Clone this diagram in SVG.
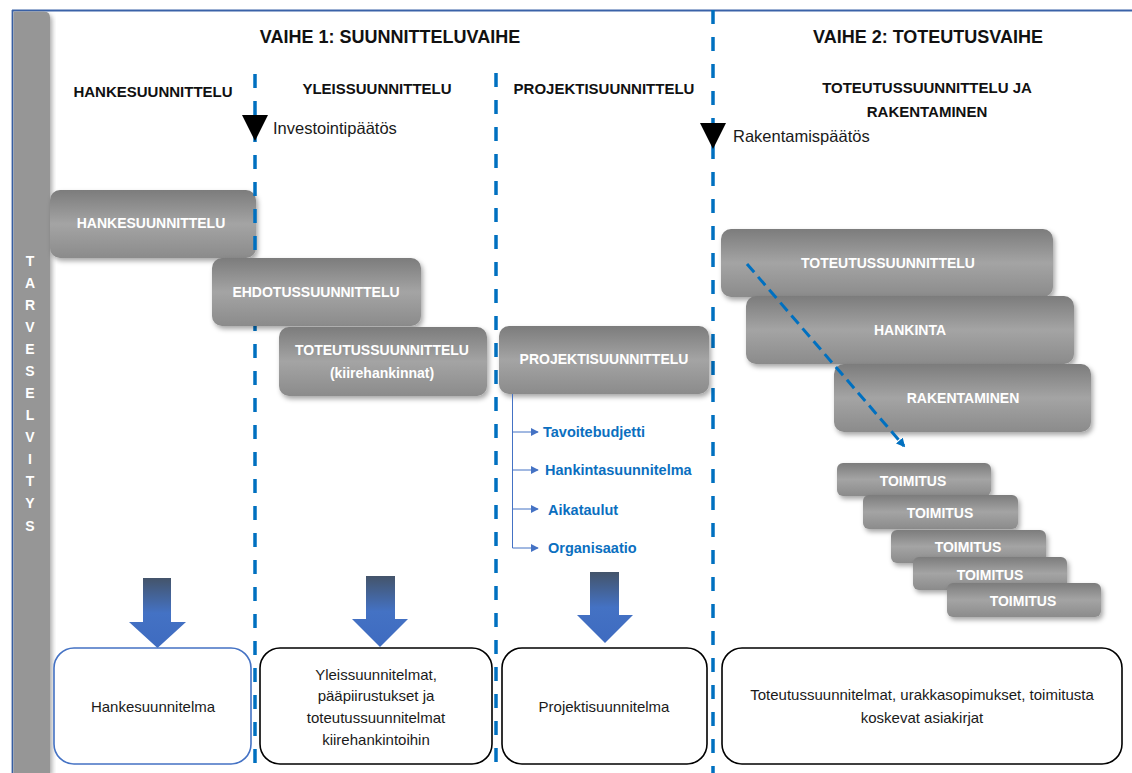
<svg xmlns="http://www.w3.org/2000/svg" width="1132" height="773" viewBox="0 0 1132 773">
<defs>
<linearGradient id="gGray" x1="0" y1="0" x2="0" y2="1">
<stop offset="0" stop-color="#7c7c7c"/>
<stop offset="0.5" stop-color="#a4a4a4"/>
<stop offset="1" stop-color="#8b8b8b"/>
</linearGradient>
<linearGradient id="gBlue" x1="0" y1="0" x2="0" y2="1">
<stop offset="0" stop-color="#44546A"/>
<stop offset="0.5" stop-color="#4472C4"/>
<stop offset="1" stop-color="#3E6BC0"/>
</linearGradient>
<filter id="sh" x="-10%" y="-20%" width="125%" height="150%">
<feDropShadow dx="2" dy="3" stdDeviation="2.5" flood-color="#000" flood-opacity="0.35"/>
</filter>
<marker id="mSmall" viewBox="0 0 10 10" refX="9" refY="5" markerWidth="8" markerHeight="8" markerUnits="userSpaceOnUse" orient="auto">
<path d="M0,0 L10,5 L0,10 Z" fill="#4472C4"/>
</marker>
<marker id="mDiag" viewBox="0 0 10 10" refX="8" refY="5" markerWidth="3" markerHeight="3" orient="auto">
<path d="M0,0 L10,5 L0,10 Z" fill="#0070C0"/>
</marker>
</defs>
<style>
.box{fill:url(#gGray);filter:url(#sh);}
.lbl{font-family:"Liberation Sans",Arial,sans-serif;font-weight:bold;font-size:14px;fill:#ffffff;text-anchor:middle;}
.hdr{font-family:"Liberation Sans",Arial,sans-serif;font-weight:bold;font-size:15px;fill:#111111;text-anchor:middle;}
.ttl{font-family:"Liberation Sans",Arial,sans-serif;font-weight:bold;font-size:18px;fill:#111111;text-anchor:middle;}
.dec{font-family:"Liberation Sans",Arial,sans-serif;font-size:16.5px;fill:#1a1a1a;}
.bl{font-family:"Liberation Sans",Arial,sans-serif;font-weight:bold;font-size:14.5px;fill:#0B6FC0;}
.out{fill:#ffffff;stroke:#000000;stroke-width:1.6;}
.otx{font-family:"Liberation Sans",Arial,sans-serif;font-size:15px;fill:#1a1a1a;text-anchor:middle;}
.div{stroke:#0070C0;stroke-width:3.5;stroke-dasharray:14 13;fill:none;}
.barr{fill:url(#gBlue);}
.vl{font-family:"Liberation Sans",Arial,sans-serif;font-weight:bold;font-size:14px;fill:#ffffff;text-anchor:middle;}
</style>

<!-- frame -->
<g id="frame">
<line x1="12" y1="10.5" x2="1132" y2="10.5" stroke="#3A62A8" stroke-width="1.8"/>
<line x1="12.5" y1="10" x2="12.5" y2="773" stroke="#3A62A8" stroke-width="1.8"/>
</g>

<!-- side bar -->
<g id="tarveselvitys">
<path d="M13.5,11.5 H44 Q50,11.5 50,17.5 V773 H13.5 Z" fill="#969696" filter="url(#sh)"/>
<text class="vl" x="30" y="266">T</text>
<text class="vl" x="30" y="288">A</text>
<text class="vl" x="30" y="310">R</text>
<text class="vl" x="30" y="332">V</text>
<text class="vl" x="30" y="354">E</text>
<text class="vl" x="30" y="376">S</text>
<text class="vl" x="30" y="398">E</text>
<text class="vl" x="30" y="420">L</text>
<text class="vl" x="30" y="442">V</text>
<text class="vl" x="30" y="464">I</text>
<text class="vl" x="30" y="486">T</text>
<text class="vl" x="30" y="508">Y</text>
<text class="vl" x="30" y="531">S</text>
</g>

<!-- titles -->
<g id="titles">
<text class="ttl" x="390" y="43">VAIHE 1: SUUNNITTELUVAIHE</text>
<text class="ttl" x="928" y="43">VAIHE 2: TOTEUTUSVAIHE</text>
<text class="hdr" x="153" y="97">HANKESUUNNITTELU</text>
<text class="hdr" x="377" y="94">YLEISSUUNNITTELU</text>
<text class="hdr" x="604" y="94">PROJEKTISUUNNITTELU</text>
<text class="hdr" x="927" y="93">TOTEUTUSSUUNNITTELU JA</text>
<text class="hdr" x="927" y="117">RAKENTAMINEN</text>
</g>

<!-- gray node: hankesuunnittelu (under divider) -->
<g id="n-hankesuunnittelu">
<rect class="box" x="50" y="190" width="206" height="68" rx="10"/>
<text class="lbl" x="151" y="228">HANKESUUNNITTELU</text>
</g>

<!-- dividers -->
<g id="dividers">
<line class="div" x1="255" y1="74" x2="255" y2="773"/>
<line class="div" x1="496" y1="73" x2="496" y2="773"/>
<line class="div" x1="713" y1="10" x2="713" y2="773"/>
</g>

<!-- decisions -->
<g id="investointipaatos">
<path d="M242,115 L268,115 L255,141 Z" fill="#000000"/>
<text class="dec" x="273" y="134">Investointipäätös</text>
</g>
<g id="rakentamispaatos">
<path d="M700,123 L726,123 L713,149 Z" fill="#000000"/>
<text class="dec" x="733" y="142">Rakentamispäätös</text>
</g>

<g id="n-ehdotussuunnittelu">
<rect class="box" x="212" y="258" width="209" height="68" rx="10"/>
<text class="lbl" x="316" y="297">EHDOTUSSUUNNITTELU</text>
</g>
<g id="n-toteutussuunnittelu-kiire">
<rect class="box" x="279" y="327" width="208" height="69" rx="10"/>
<text class="lbl" x="382" y="355">TOTEUTUSSUUNNITTELU</text>
<text class="lbl" x="382" y="378">(kiirehankinnat)</text>
</g>
<g id="n-projektisuunnittelu">
<rect class="box" x="499" y="326" width="210" height="68" rx="10"/>
<text class="lbl" x="604" y="364">PROJEKTISUUNNITTELU</text>
</g>

<g id="n-toteutussuunnittelu">
<rect class="box" x="721" y="229" width="332" height="68" rx="10"/>
<text class="lbl" x="888" y="268">TOTEUTUSSUUNNITTELU</text>
</g>
<g id="n-hankinta">
<rect class="box" x="746" y="296" width="328" height="68" rx="10"/>
<text class="lbl" x="910" y="335">HANKINTA</text>
</g>
<g id="n-rakentaminen">
<rect class="box" x="834" y="364" width="257" height="68" rx="10"/>
<text class="lbl" x="963" y="403">RAKENTAMINEN</text>
</g>

<g id="n-toimitus-1">
<rect class="box" x="837" y="463" width="154" height="33" rx="6"/>
<text class="lbl" x="913" y="486">TOIMITUS</text>
</g>
<g id="n-toimitus-2">
<rect class="box" x="863" y="495" width="155" height="34" rx="6"/>
<text class="lbl" x="940" y="518">TOIMITUS</text>
</g>
<g id="n-toimitus-3">
<rect class="box" x="891" y="530" width="155" height="33" rx="6"/>
<text class="lbl" x="968" y="552">TOIMITUS</text>
</g>
<g id="n-toimitus-4">
<rect class="box" x="913" y="557" width="154" height="33" rx="6"/>
<text class="lbl" x="990" y="580">TOIMITUS</text>
</g>
<g id="n-toimitus-5">
<rect class="box" x="947" y="583" width="154" height="34" rx="6"/>
<text class="lbl" x="1023" y="606">TOIMITUS</text>
</g>

<!-- project plan items -->
<g id="n-tavoitebudjetti"><text class="bl" x="543" y="437">Tavoitebudjetti</text></g>
<g id="n-hankintasuunnitelma"><text class="bl" x="545" y="475">Hankintasuunnitelma</text></g>
<g id="n-aikataulut"><text class="bl" x="548" y="515">Aikataulut</text></g>
<g id="n-organisaatio"><text class="bl" x="548" y="553">Organisaatio</text></g>

<!-- connectors -->
<g id="connectors">
<path d="M512.5,394 V548" stroke="#4472C4" stroke-width="1" fill="none"/>
<line x1="512.5" y1="432" x2="538" y2="432" stroke="#4472C4" stroke-width="1" marker-end="url(#mSmall)"/>
<line x1="512.5" y1="470" x2="538" y2="470" stroke="#4472C4" stroke-width="1" marker-end="url(#mSmall)"/>
<line x1="512.5" y1="509" x2="538" y2="509" stroke="#4472C4" stroke-width="1" marker-end="url(#mSmall)"/>
<line x1="512.5" y1="548" x2="538" y2="548" stroke="#4472C4" stroke-width="1" marker-end="url(#mSmall)"/>
<line x1="747" y1="264" x2="904" y2="446" stroke="#0070C0" stroke-width="3" stroke-dasharray="11 6" marker-end="url(#mDiag)"/>
<path class="barr" d="M143,578 H171 V622 H186 L157.5,648 L129,622 H143 Z"/>
<path class="barr" d="M366,576 H395 V619 H408 L380,647 L352,619 H366 Z"/>
<path class="barr" d="M590,572 H619 V615 H633 L605,643 L577,615 H590 Z"/>
</g>

<!-- outputs -->
<g id="n-hankesuunnitelma">
<rect x="54" y="648" width="197" height="116" rx="20" fill="#ffffff" stroke="#4472C4" stroke-width="1.6"/>
<text class="otx" x="153" y="712">Hankesuunnitelma</text>
</g>
<g id="n-yleissuunnitelmat">
<rect class="out" x="260" y="648" width="232" height="116" rx="20"/>
<text class="otx" x="376" y="680">Yleissuunnitelmat,</text>
<text class="otx" x="376" y="701">pääpiirustukset ja</text>
<text class="otx" x="376" y="723">toteutussuunnitelmat</text>
<text class="otx" x="376" y="745">kiirehankintoihin</text>
</g>
<g id="n-projektisuunnitelma">
<rect class="out" x="502" y="648" width="205" height="116" rx="20"/>
<text class="otx" x="604" y="712">Projektisuunnitelma</text>
</g>
<g id="n-toteutussuunnitelmat">
<rect class="out" x="722" y="648" width="400" height="116" rx="20"/>
<text class="otx" x="922" y="700">Toteutussuunnitelmat, urakkasopimukset, toimitusta</text>
<text class="otx" x="922" y="723">koskevat asiakirjat</text>
</g>
</svg>
